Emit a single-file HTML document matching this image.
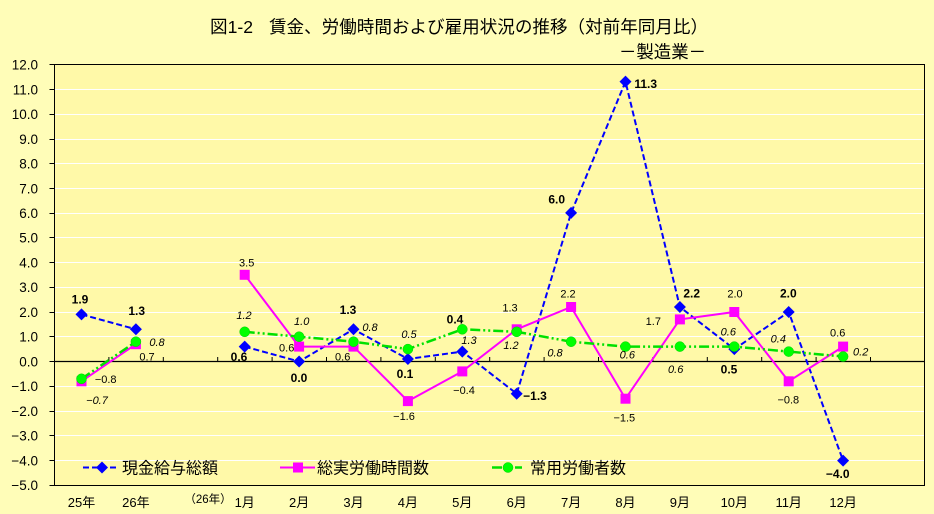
<!DOCTYPE html>
<html><head><meta charset="utf-8">
<style>
html,body{margin:0;padding:0;background:#FFFDB8;}
svg{display:block;}
text{font-family:"Liberation Sans","Noto Sans CJK JP",sans-serif;}
.n{font-size:11px;fill:#000;}
.b{font-size:12px;font-weight:bold;fill:#000;}
.i{font-size:11px;font-style:italic;fill:#000;}
.ax{font-size:13.5px;fill:#000;}
.xl{font-size:13px;fill:#000;}
.lg{font-size:16px;fill:#000;}
</style></head>
<body>
<svg width="934" height="514" viewBox="0 0 934 514" xmlns="http://www.w3.org/2000/svg">
<rect x="0" y="0" width="934" height="514" fill="#FFFDB8"/>
<!-- title -->
<text x="210" y="33" font-size="17.5" textLength="43" lengthAdjust="spacingAndGlyphs">図1-2</text>
<text x="269" y="33" font-size="17.5" textLength="439" lengthAdjust="spacingAndGlyphs">賃金、労働時間および雇用状況の推移（対前年同月比）</text>
<text x="619" y="58" font-size="17.5" textLength="87" lengthAdjust="spacingAndGlyphs">－製造業－</text>

<!-- plot area -->
<rect x="54.5" y="64.5" width="870" height="421" fill="#FFF9A8" stroke="#000" stroke-width="1"/>
<!-- gridlines -->
<g stroke="#FFFFFF" stroke-width="1">
<line x1="55" x2="924" y1="89.5" y2="89.5"/>
<line x1="55" x2="924" y1="114.5" y2="114.5"/>
<line x1="55" x2="924" y1="139.5" y2="139.5"/>
<line x1="55" x2="924" y1="163.5" y2="163.5"/>
<line x1="55" x2="924" y1="188.5" y2="188.5"/>
<line x1="55" x2="924" y1="213.5" y2="213.5"/>
<line x1="55" x2="924" y1="237.5" y2="237.5"/>
<line x1="55" x2="924" y1="262.5" y2="262.5"/>
<line x1="55" x2="924" y1="287.5" y2="287.5"/>
<line x1="55" x2="924" y1="312.5" y2="312.5"/>
<line x1="55" x2="924" y1="336.5" y2="336.5"/>
<line x1="55" x2="924" y1="386.5" y2="386.5"/>
<line x1="55" x2="924" y1="411.5" y2="411.5"/>
<line x1="55" x2="924" y1="435.5" y2="435.5"/>
<line x1="55" x2="924" y1="460.5" y2="460.5"/>
</g>
<!-- zero axis -->
<line x1="54.5" x2="924.5" y1="361.5" y2="361.5" stroke="#000" stroke-width="1.2"/>
<!-- x ticks -->
<g stroke="#000" stroke-width="1">
<line x1="108.9" x2="108.9" y1="357" y2="361.5"/>
<line x1="163.3" x2="163.3" y1="357" y2="361.5"/>
<line x1="217.7" x2="217.7" y1="357" y2="361.5"/>
<line x1="272.1" x2="272.1" y1="357" y2="361.5"/>
<line x1="326.5" x2="326.5" y1="357" y2="361.5"/>
<line x1="380.9" x2="380.9" y1="357" y2="361.5"/>
<line x1="435.3" x2="435.3" y1="357" y2="361.5"/>
<line x1="489.7" x2="489.7" y1="357" y2="361.5"/>
<line x1="544.1" x2="544.1" y1="357" y2="361.5"/>
<line x1="598.5" x2="598.5" y1="357" y2="361.5"/>
<line x1="652.9" x2="652.9" y1="357" y2="361.5"/>
<line x1="707.3" x2="707.3" y1="357" y2="361.5"/>
<line x1="761.7" x2="761.7" y1="357" y2="361.5"/>
<line x1="816.1" x2="816.1" y1="357" y2="361.5"/>
<line x1="870.5" x2="870.5" y1="357" y2="361.5"/>
</g>
<!-- y ticks -->
<g stroke="#000" stroke-width="1">
<line x1="49.5" x2="54.5" y1="64.5" y2="64.5"/>
<line x1="49.5" x2="54.5" y1="89.5" y2="89.5"/>
<line x1="49.5" x2="54.5" y1="114.5" y2="114.5"/>
<line x1="49.5" x2="54.5" y1="139.5" y2="139.5"/>
<line x1="49.5" x2="54.5" y1="163.5" y2="163.5"/>
<line x1="49.5" x2="54.5" y1="188.5" y2="188.5"/>
<line x1="49.5" x2="54.5" y1="213.5" y2="213.5"/>
<line x1="49.5" x2="54.5" y1="237.5" y2="237.5"/>
<line x1="49.5" x2="54.5" y1="262.5" y2="262.5"/>
<line x1="49.5" x2="54.5" y1="287.5" y2="287.5"/>
<line x1="49.5" x2="54.5" y1="312.5" y2="312.5"/>
<line x1="49.5" x2="54.5" y1="336.5" y2="336.5"/>
<line x1="49.5" x2="54.5" y1="361.5" y2="361.5"/>
<line x1="49.5" x2="54.5" y1="386.5" y2="386.5"/>
<line x1="49.5" x2="54.5" y1="411.5" y2="411.5"/>
<line x1="49.5" x2="54.5" y1="435.5" y2="435.5"/>
<line x1="49.5" x2="54.5" y1="460.5" y2="460.5"/>
<line x1="49.5" x2="54.5" y1="485.5" y2="485.5"/>
</g>
<!-- y labels -->
<g class="ax" text-anchor="end">
<text x="38" y="69.5">12.0</text>
<text x="38" y="94.5">11.0</text>
<text x="38" y="119">10.0</text>
<text x="38" y="144">9.0</text>
<text x="38" y="168.5">8.0</text>
<text x="38" y="193.5">7.0</text>
<text x="38" y="218">6.0</text>
<text x="38" y="242.5">5.0</text>
<text x="38" y="267.5">4.0</text>
<text x="38" y="292">3.0</text>
<text x="38" y="317">2.0</text>
<text x="38" y="341.5">1.0</text>
<text x="38" y="366.5">0.0</text>
<text x="38" y="391">−1.0</text>
<text x="38" y="416">−2.0</text>
<text x="38" y="440.5">−3.0</text>
<text x="38" y="465.5">−4.0</text>
<text x="38" y="490">−5.0</text>
</g>
<!-- x labels -->
<g class="xl" text-anchor="middle">
<text x="81.5" y="507">25年</text>
<text x="135.9" y="507">26年</text>
<text x="208" y="503" font-size="11.5">（26年）</text>
<text x="244.7" y="507">1月</text>
<text x="299.1" y="507">2月</text>
<text x="353.5" y="507">3月</text>
<text x="407.9" y="507">4月</text>
<text x="462.3" y="507">5月</text>
<text x="516.7" y="507">6月</text>
<text x="571.1" y="507">7月</text>
<text x="625.5" y="507">8月</text>
<text x="679.9" y="507">9月</text>
<text x="734.3" y="507">10月</text>
<text x="788.7" y="507">11月</text>
<text x="843.1" y="507">12月</text>
</g>

<!-- blue series -->
<g fill="none" stroke="#0000FF" stroke-width="2" stroke-dasharray="6,3">
<polyline points="81.5,314.4 135.9,329.3"/>
<polyline points="244.7,346.6 299.1,361.5 353.5,329.3 407.9,359.0 462.3,351.6 516.7,393.7 571.1,212.9 625.5,81.6 679.9,307.0 734.3,349.1 788.7,312.0 843.1,460.6"/>
</g>
<g fill="#0000FF">
<polygon points="81.5,308.4 87.5,314.4 81.5,320.4 75.5,314.4"/>
<polygon points="135.9,323.3 141.9,329.3 135.9,335.3 129.9,329.3"/>
<polygon points="244.7,340.6 250.7,346.6 244.7,352.6 238.7,346.6"/>
<polygon points="299.1,355.5 305.1,361.5 299.1,367.5 293.1,361.5"/>
<polygon points="353.5,323.3 359.5,329.3 353.5,335.3 347.5,329.3"/>
<polygon points="407.9,353.0 413.9,359.0 407.9,365.0 401.9,359.0"/>
<polygon points="462.3,345.6 468.3,351.6 462.3,357.6 456.3,351.6"/>
<polygon points="516.7,387.7 522.7,393.7 516.7,399.7 510.7,393.7"/>
<polygon points="571.1,206.9 577.1,212.9 571.1,218.9 565.1,212.9"/>
<polygon points="625.5,75.6 631.5,81.6 625.5,87.6 619.5,81.6"/>
<polygon points="679.9,301.0 685.9,307.0 679.9,313.0 673.9,307.0"/>
<polygon points="734.3,343.1 740.3,349.1 734.3,355.1 728.3,349.1"/>
<polygon points="788.7,306.0 794.7,312.0 788.7,318.0 782.7,312.0"/>
<polygon points="843.1,454.6 849.1,460.6 843.1,466.6 837.1,460.6"/>
</g>

<!-- magenta series -->
<g fill="none" stroke="#FF00FF" stroke-width="2">
<polyline points="81.5,381.3 135.9,344.2"/>
<polyline points="244.7,274.8 299.1,346.6 353.5,346.6 407.9,401.1 462.3,371.4 516.7,329.3 571.1,307.0 625.5,398.7 679.9,319.4 734.3,312.0 788.7,381.3 843.1,346.6"/>
</g>
<g fill="#FF00FF">
<rect x="76.5" y="376.3" width="10" height="10"/>
<rect x="130.9" y="339.2" width="10" height="10"/>
<rect x="239.7" y="269.8" width="10" height="10"/>
<rect x="294.1" y="341.6" width="10" height="10"/>
<rect x="348.5" y="341.6" width="10" height="10"/>
<rect x="402.9" y="396.1" width="10" height="10"/>
<rect x="457.3" y="366.4" width="10" height="10"/>
<rect x="511.7" y="324.3" width="10" height="10"/>
<rect x="566.1" y="302.0" width="10" height="10"/>
<rect x="620.5" y="393.7" width="10" height="10"/>
<rect x="674.9" y="314.4" width="10" height="10"/>
<rect x="729.3" y="307.0" width="10" height="10"/>
<rect x="783.7" y="376.3" width="10" height="10"/>
<rect x="838.1" y="341.6" width="10" height="10"/>
</g>

<!-- green series -->
<g fill="none" stroke="#00E000" stroke-width="2.5" stroke-dasharray="10,3,2,3,2,3">
<polyline points="81.5,378.8 135.9,341.7"/>
<polyline points="244.7,331.8 299.1,336.7 353.5,341.7 407.9,349.1 462.3,329.3 516.7,331.8 571.1,341.7 625.5,346.6 679.9,346.6 734.3,346.6 788.7,351.6 843.1,356.5"/>
</g>
<g fill="#00FF00" stroke="#00D000" stroke-width="0.5">
<circle cx="81.5" cy="378.8" r="5"/>
<circle cx="135.9" cy="341.7" r="5"/>
<circle cx="244.7" cy="331.8" r="5"/>
<circle cx="299.1" cy="336.7" r="5"/>
<circle cx="353.5" cy="341.7" r="5"/>
<circle cx="407.9" cy="349.1" r="5"/>
<circle cx="462.3" cy="329.3" r="5"/>
<circle cx="516.7" cy="331.8" r="5"/>
<circle cx="571.1" cy="341.7" r="5"/>
<circle cx="625.5" cy="346.6" r="5"/>
<circle cx="679.9" cy="346.6" r="5"/>
<circle cx="734.3" cy="346.6" r="5"/>
<circle cx="788.7" cy="351.6" r="5"/>
<circle cx="843.1" cy="356.5" r="5"/>
</g>

<!-- data labels: blue (bold) -->
<g class="b" text-anchor="middle">
<text x="80" y="303.5">1.9</text>
<text x="136.7" y="315">1.3</text>
<text x="239" y="361">0.6</text>
<text x="299" y="382">0.0</text>
<text x="348" y="314">1.3</text>
<text x="405" y="378">0.1</text>
<text x="455" y="323.5">0.4</text>
<text x="535" y="400">−1.3</text>
<text x="556.7" y="203.5">6.0</text>
<text x="645.7" y="88">11.3</text>
<text x="691.7" y="297.5">2.2</text>
<text x="729" y="373.5">0.5</text>
<text x="788.3" y="297.5">2.0</text>
<text x="837.7" y="478">−4.0</text>
</g>
<!-- magenta labels (normal) -->
<g class="n" text-anchor="middle">
<text x="105.7" y="383">−0.8</text>
<text x="147" y="360.7">0.7</text>
<text x="246.7" y="266.3">3.5</text>
<text x="286.7" y="351.3">0.6</text>
<text x="342.7" y="360.7">0.6</text>
<text x="404" y="420">−1.6</text>
<text x="464" y="394">−0.4</text>
<text x="510" y="311.7">1.3</text>
<text x="568" y="297.3">2.2</text>
<text x="624.3" y="421.3">−1.5</text>
<text x="653.3" y="325">1.7</text>
<text x="735" y="297.3">2.0</text>
<text x="788.3" y="403.3">−0.8</text>
<text x="837.7" y="336.7">0.6</text>
</g>
<!-- green labels (italic) -->
<g class="i" text-anchor="middle">
<text x="97" y="404">−0.7</text>
<text x="157" y="346">0.8</text>
<text x="244" y="319">1.2</text>
<text x="301.7" y="325">1.0</text>
<text x="370" y="331">0.8</text>
<text x="409" y="338">0.5</text>
<text x="469" y="344">1.3</text>
<text x="511" y="349">1.2</text>
<text x="555" y="356.7">0.8</text>
<text x="627.3" y="358.3">0.6</text>
<text x="675.7" y="373">0.6</text>
<text x="728.3" y="335.7">0.6</text>
<text x="778.3" y="342.3">0.4</text>
<text x="860.7" y="355.7">0.2</text>
</g>

<!-- legend -->
<line x1="83" x2="119" y1="467.5" y2="467.5" stroke="#0000FF" stroke-width="2" stroke-dasharray="6,3"/>
<polygon points="102,461.5 108,467.5 102,473.5 96,467.5" fill="#0000FF"/>
<text class="lg" x="122" y="473.5">現金給与総額</text>

<line x1="280" x2="315" y1="467.5" y2="467.5" stroke="#FF00FF" stroke-width="2"/>
<rect x="293" y="462.5" width="10" height="10" fill="#FF00FF"/>
<text class="lg" x="317" y="473.5">総実労働時間数</text>

<line x1="492" x2="522" y1="467.5" y2="467.5" stroke="#00E000" stroke-width="2.5" stroke-dasharray="10,3,2,3,2,3"/>
<circle cx="508" cy="467.5" r="5" fill="#00FF00" stroke="#00D000" stroke-width="0.5"/>
<text class="lg" x="530" y="473.5">常用労働者数</text>
</svg>
</body></html>
